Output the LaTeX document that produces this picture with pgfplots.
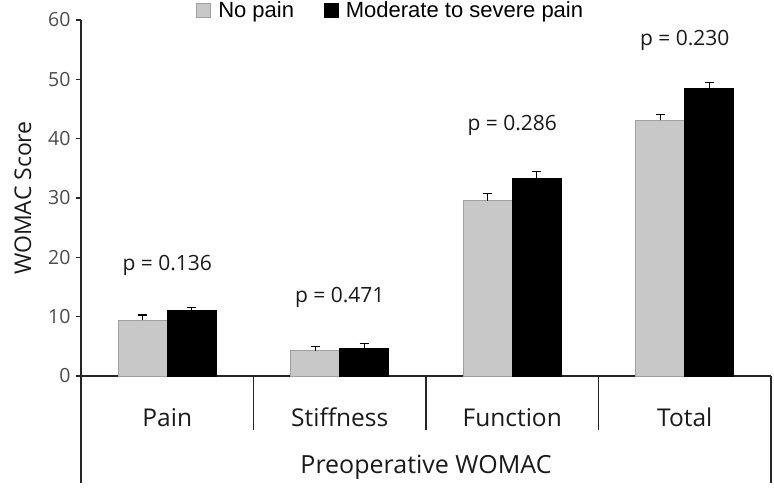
\documentclass[border=0pt]{standalone}
\usepackage{pgfplots}
\pgfplotsset{compat=1.18}
\usepackage{fontspec}
\setmainfont{Open Sans}
\newfontfamily\legfont{Liberation Sans}
\definecolor{txt}{HTML}{1A1A1A}
\definecolor{lgray}{HTML}{C8C8C8}
\definecolor{bgray}{HTML}{A0A0A0}
\pgfplotsset{myerr/.style={
  error bars/y dir=plus, error bars/y explicit,
  error bars/error bar style={line width=1.3bp, black},
  error bars/error mark options={black, line width=1.3bp, mark size=4.5bp, rotate=90}}}
\begin{document}
\begin{tikzpicture}
\begin{axis}[
  scale only axis, width=690bp, height=356bp,
  xmin=0, xmax=4, ymin=0, ymax=60,
  axis lines*=left,
  axis line style={line width=1.6bp, black!85},
  clip=false,
  ytick={0,10,...,60},
  xtick={0.5,1.5,2.5,3.5},
  xticklabels={Pain,Stiffness,Function,Total},
  x tick style={draw=none},
  y tick style={line width=1.6bp, black!85},
  tick align=outside, major tick length=5bp,
  /pgf/number format/assume math mode=true,
  yticklabel style={font=\fontsize{19.5bp}{22bp}\selectfont, text=black!70, xshift=-2bp},
  xticklabel style={font=\fontsize{24.5bp}{28bp}\selectfont, text=txt, anchor=base, yshift=-45bp},
  ylabel={WOMAC Score},
  ylabel style={font=\fontsize{23bp}{27bp}\selectfont, text=txt, at={(rel axis cs:0,0.5)}, anchor=center, xshift=0bp, yshift=58bp},
  xlabel={Preoperative WOMAC},
  xlabel style={font=\fontsize{25bp}{29bp}\selectfont, text=txt, at={(rel axis cs:0.5,0)}, anchor=center, yshift=-91bp},
  ybar, bar width=0.284, bar shift=0pt,
  legend columns=2,
  legend style={at={(rel axis cs:0.449,1.028)}, anchor=center, draw=none, fill=none,
     font=\legfont\fontsize{22bp}{26bp}\selectfont,
     /tikz/every odd column/.append style={column sep=5bp},
     /tikz/every even column/.append style={column sep=28bp},
     inner sep=0pt},
  legend image code/.code={\draw[#1, line width=0.8bp] (0bp,-7bp) rectangle (14bp,7bp);},
]
\addplot[fill=lgray, draw=bgray, line width=1bp, myerr] coordinates {
  (0.358,9.4) +- (0,0.9)
  (1.358,4.25) +- (0,0.75)
  (2.358,29.5) +- (0,1.2)
  (3.358,43.1) +- (0,1.0)
};
\addplot[fill=black, draw=black, line width=1bp, myerr] coordinates {
  (0.642,11.0) +- (0,0.6)
  (1.642,4.7) +- (0,0.8)
  (2.642,33.3) +- (0,1.2)
  (3.642,48.5) +- (0,1.0)
};
\legend{No pain, Moderate to severe pain}
\draw[line width=1.6bp, black!85] (axis cs:0,0) -- (axis cs:0,-18);
\draw[line width=1.6bp, black!85] (axis cs:4,0) -- (axis cs:4,-18);
\draw[line width=1.6bp, black!85] (axis cs:1,0) -- (axis cs:1,-9.1);
\draw[line width=1.6bp, black!85] (axis cs:2,0) -- (axis cs:2,-9.1);
\draw[line width=1.6bp, black!85] (axis cs:3,0) -- (axis cs:3,-9.1);
\node[font=\fontsize{21bp}{25bp}\selectfont, text=txt] at (axis cs:0.5,18.7) {p = 0.136};
\node[font=\fontsize{21bp}{25bp}\selectfont, text=txt] at (axis cs:1.5,13.2) {p = 0.471};
\node[font=\fontsize{21bp}{25bp}\selectfont, text=txt] at (axis cs:2.5,42.3) {p = 0.286};
\node[font=\fontsize{21bp}{25bp}\selectfont, text=txt] at (axis cs:3.5,56.5) {p = 0.230};
\coordinate (O) at (rel axis cs:0,0);
\end{axis}
\pgfresetboundingbox
\path (O) ++(-81bp,-114bp) rectangle ++(774bp,490bp);
\end{tikzpicture}
\end{document}
